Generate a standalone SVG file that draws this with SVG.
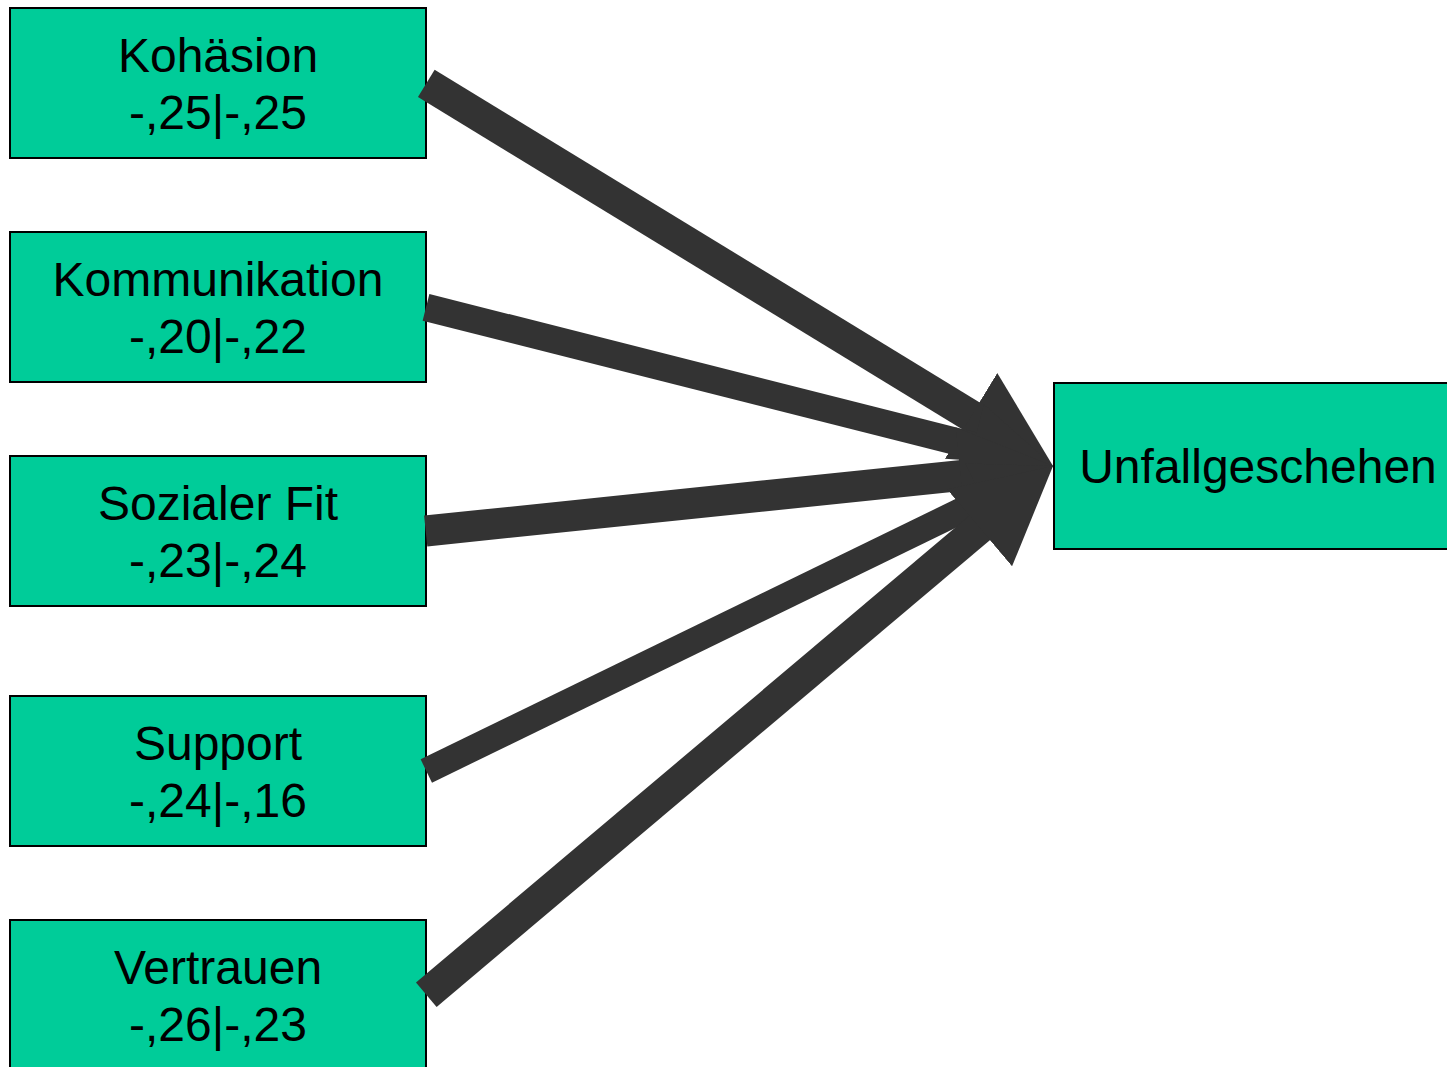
<svg xmlns="http://www.w3.org/2000/svg" width="1447" height="1067" viewBox="0 0 1447 1067">
<style>
.box{fill:#00CC99;stroke:#000;stroke-width:2}
.t{font-family:"Liberation Sans",Arial,sans-serif;font-size:48px;fill:#000;text-anchor:middle}
.c{fill:none;stroke:#333333;stroke-linecap:butt;marker-end:url(#ah)}
</style>
<defs>
<marker id="ah" viewBox="0 -0.1 3 3.2" markerWidth="3" markerHeight="3.2" refX="1" refY="1.5" orient="auto" markerUnits="strokeWidth">
<path d="M0,-0.07 L3,1.5 L0,3.07 z" fill="#333333"/>
</marker>
</defs>
<rect width="1447" height="1067" fill="#fff"/>
<g id="kohaesion"><rect class="box" x="10" y="8" width="416" height="150"/><text class="t" x="218" y="72">Kohäsion</text><text class="t" x="218" y="129">-,25|-,25</text></g>
<g id="kommunikation"><rect class="box" x="10" y="232" width="416" height="150"/><text class="t" x="218" y="296">Kommunikation</text><text class="t" x="218" y="353">-,20|-,22</text></g>
<g id="sozialer-fit"><rect class="box" x="10" y="456" width="416" height="150"/><text class="t" x="218" y="520">Sozialer Fit</text><text class="t" x="218" y="577">-,23|-,24</text></g>
<g id="support"><rect class="box" x="10" y="696" width="416" height="150"/><text class="t" x="218" y="760">Support</text><text class="t" x="218" y="817">-,24|-,16</text></g>
<g id="vertrauen"><rect class="box" x="10" y="920" width="416" height="150"/><text class="t" x="218" y="984">Vertrauen</text><text class="t" x="218" y="1041">-,26|-,23</text></g>
<g id="unfallgeschehen"><rect class="box" x="1054" y="383" width="420" height="166"/><text class="t" x="1258" y="483">Unfallgeschehen</text></g>
<g id="connectors">
<path class="c" style="stroke-width:32" d="M426.3,83.3 L998.4,432.6"/>
<path class="c" style="stroke-width:27.5" d="M426,307.3 L999.7,452.5"/>
<path class="c" style="stroke-width:31" d="M425.7,531 L991.3,472.4"/>
<path class="c" style="stroke-width:26" d="M426.3,771 L1006.2,488.8"/>
<path class="c" style="stroke-width:32" d="M426.3,994.7 L1004.1,507.3"/>
</g>
</svg>
